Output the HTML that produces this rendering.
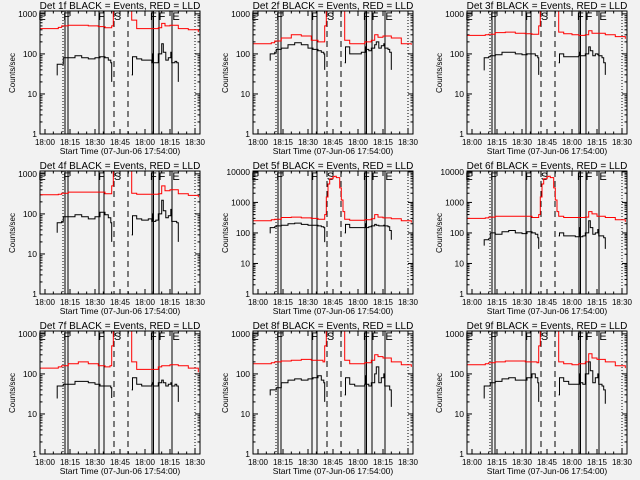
<!DOCTYPE html>
<html><head><meta charset="utf-8"><style>
html,body{margin:0;padding:0;background:#f2f2f2;}
svg{display:block;font-family:"Liberation Sans",sans-serif;}
</style></head><body>
<svg id="c" width="640" height="480" viewBox="0 0 640 480"></svg>
<script>
const redT=[-3,3,8,10,14,20,26,32,36,39,40,41,42,43,45,46,47,49,50,51,52,55,60,64,68,70,72,75,80,86,92];
const blackT=[7,7.3,10,11,14,18,22,26,30,33,36,38,39.5,40,52,52.5,55,58,62,64,64.5,65,66.5,68,70,71,72.5,74,75.5,76,78,79,80];
const detNames=["1f","2f","3f","4f","5f","6f","7f","8f","9f"];
const yMaxs=[1180,1180,1180,1180,10700,10700,1180,1180,1180];
const CL=[500,2000,5000,5000,5000,5000,5000,5000,5000,2000];
const PK=[400,1500,4000,6000,7000,7200,6500,3000,1200,500];
const red1=[430,430,460,500,520,520,500,480,450,450,...CL,700,430,430,430,450,580,500,520,430,400,350];
const red2=[180,180,190,210,250,300,280,220,200,200,...CL,220,180,180,200,220,300,260,280,250,180,170];
const red3=[290,290,300,310,340,350,330,320,310,310,...CL,350,320,300,290,300,380,330,330,300,270,240];
const red4=[300,300,310,330,350,350,350,350,320,320,...CL,330,310,310,310,320,500,380,400,320,290,260];
const red5=[250,250,270,280,320,330,310,300,280,280,...PK,280,260,260,270,290,400,330,310,290,250,220];
const red6=[300,300,310,330,350,350,350,350,320,320,...PK,350,320,320,320,330,500,420,350,320,270,230];
const red7=[140,140,150,160,180,200,180,160,150,160,...CL,200,130,130,130,150,160,160,170,160,140,110];
const red8=[180,180,190,200,210,220,230,220,220,200,...CL,220,180,180,190,220,300,270,250,200,170,150];
const red9=[170,170,180,190,200,210,210,200,200,190,...CL,200,180,170,180,200,320,250,230,200,160,140];
const blk1=[30,55,55,80,80,90,80,75,80,85,80,70,60,20,30,85,75,70,70,60,100,60,60,100,180,110,70,80,110,60,65,60,20];
const blk2=[70,100,110,130,140,170,190,170,140,130,120,110,100,40,60,150,100,100,110,110,150,130,120,140,170,200,140,160,180,140,130,110,40];
const blk3=[40,80,85,90,95,110,110,100,95,100,100,90,80,30,60,100,85,85,85,90,110,90,90,100,150,120,90,100,95,90,80,60,30];
const blk4=[35,60,65,85,85,95,85,75,85,110,95,80,60,20,30,90,75,70,75,65,100,65,70,100,220,120,80,90,130,65,65,60,20];
const blk5=[100,150,160,170,180,200,210,190,180,180,170,160,150,50,100,190,150,150,150,150,200,150,160,170,190,180,170,170,180,170,160,120,60];
const blk6=[40,60,65,100,90,110,120,100,95,110,100,90,70,30,80,100,80,80,75,75,150,75,80,100,250,150,90,100,130,80,80,70,30];
const blk7=[25,50,50,55,55,65,65,60,55,50,50,50,45,25,40,80,55,50,50,55,60,50,50,60,70,60,50,55,60,50,55,50,20];
const blk8=[30,40,40,45,60,70,75,70,75,80,90,70,60,20,30,80,55,50,50,55,90,55,50,60,100,150,60,80,100,50,50,40,15];
const blk9=[25,50,50,60,65,75,80,70,70,80,100,80,60,20,30,80,65,55,55,55,100,60,55,100,200,120,60,80,100,55,50,40,18];
const reds=[red1,red2,red3,red4,red5,red6,red7,red8,red9];
const blks=[blk1,blk2,blk3,blk4,blk5,blk6,blk7,blk8,blk9];
const solidT=[12,13.8,32.4,35.4,64.2,65.1,68.4,76.2];
const dashT=[41.4,49.8];
const dotT=[10.8,76.2,90];
const segLabels=["E","F","F","S","F","F","E"];
const segLabelT=[-1.8,13,34,43.5,65,70.2,78.6];
const tickLabels=["18:00","18:15","18:30","18:45","18:00","18:15","18:30"];
const tickT=[0,15,30,45,60,75,90];

const NS="http://www.w3.org/2000/svg";
const svg=document.getElementById('c');
function mk(tag,attrs,parent){const e=document.createElementNS(NS,tag);for(const k in attrs)e.setAttribute(k,attrs[k]);parent.appendChild(e);return e;}
const X0=40,X1=200,Y0=11,Y1=134,T0=-3,T1=93;
const colX=[0,213,427],rowY=[0,160,320];
for(let p=0;p<9;p++){
  const ox=colX[p%3],oy=rowY[Math.floor(p/3)];
  const g=mk('g',{transform:`translate(${ox},${oy})`},svg);
  
  
  const ymax=yMaxs[p];
  const xs=t=>X0+(t-T0)/(T1-T0)*(X1-X0);
  const ys=v=>Y1-Math.log10(v)/Math.log10(ymax)*(Y1-Y0);
  const cp=mk('clipPath',{id:'cp'+p},g);mk('rect',{x:X0,y:Y0,width:X1-X0,height:Y1-Y0},cp);
  const tt=mk('text',{x:120,y:9,'font-size':10,'text-anchor':'middle',fill:'#000'},g);
  tt.textContent=`Det ${detNames[p]} BLACK = Events, RED = LLD`;
  
  
  const dec=Math.round(Math.log10(ymax));
  for(let d=0;d<=dec;d++){
    const v=Math.pow(10,d);const y=ys(v);
    mk('line',{x1:X0,x2:X0+5,y1:y,y2:y,stroke:'#000'},g);
    mk('line',{x1:X1-5,x2:X1,y1:y,y2:y,stroke:'#000'},g);
    const lb=mk('text',{x:X0-3,y:y+3,'font-size':8.5,'text-anchor':'end'},g);
    lb.textContent=String(v);
    
    
    for(let m=2;m<10;m++){const vv=v*m;if(vv>ymax)break;const yy=ys(vv);
      mk('line',{x1:X0,x2:X0+2.5,y1:yy,y2:yy,stroke:'#000'},g);
      mk('line',{x1:X1-2.5,x2:X1,y1:yy,y2:yy,stroke:'#000'},g);}
  }
  for(let t=0;t<=90;t+=5){const x=xs(t);const L=(t%15===0)?5:2.5;
    mk('line',{x1:x,x2:x,y1:Y1,y2:Y1-L,stroke:'#000'},g);
    mk('line',{x1:x,x2:x,y1:Y0,y2:Y0+L,stroke:'#000'},g);}
  tickT.forEach((t,i)=>{const lb=mk('text',{x:xs(t),y:145,'font-size':8,'text-anchor':'middle'},g);
    lb.textContent=tickLabels[i];
    
    });
  const xl=mk('text',{x:120,y:154,'font-size':8.5,'text-anchor':'middle'},g);
  xl.textContent='Start Time (07-Jun-06 17:54:00)';
  
  
  const yl=mk('text',{x:0,y:0,'font-size':8,'text-anchor':'middle',transform:'translate(15,73) rotate(-90)'},g);
  yl.textContent='Counts/sec';
  
  
  solidT.forEach(t=>{const l=mk('line',{x1:xs(t),x2:xs(t),y1:Y0,y2:Y1,stroke:'#000','stroke-width':1},g);
    });
  dashT.forEach(t=>{const l=mk('line',{x1:xs(t),x2:xs(t),y1:Y0,y2:Y1,stroke:'#000','stroke-dasharray':'6,4'},g);
    });
  dotT.forEach(t=>{const l=mk('line',{x1:xs(t),x2:xs(t),y1:Y0,y2:Y1,stroke:'#000','stroke-dasharray':'1,2'},g);
    });
  segLabels.forEach((s,i)=>{const lb=mk('text',{x:xs(segLabelT[i]),y:20,'font-size':11,'text-anchor':'middle'},g);
    lb.textContent=s;});
  const step=(T,V)=>{let d='';let prevT=null;
    T.forEach((t,i)=>{const x=xs(t),y=ys(V[i]);
      if(prevT===null||t-prevT>8){d+=`M${x.toFixed(1)},${y.toFixed(1)}`;}
      else{d+=`H${x.toFixed(1)}V${y.toFixed(1)}`;}
      prevT=t;});return d;};
  const rp=mk('path',{d:step(redT,reds[p]),fill:'none',stroke:'#ff0000','stroke-width':1,'clip-path':`url(#cp${p})`},g);
  
  
  const bp=mk('path',{d:step(blackT,blks[p]),fill:'none',stroke:'#000','stroke-width':1,'clip-path':`url(#cp${p})`},g);
  
  
  const box=mk('rect',{x:X0,y:Y0,width:X1-X0,height:Y1-Y0,fill:'none',stroke:'#000','stroke-width':1},g);
  
  
}
</script>
</body></html>
